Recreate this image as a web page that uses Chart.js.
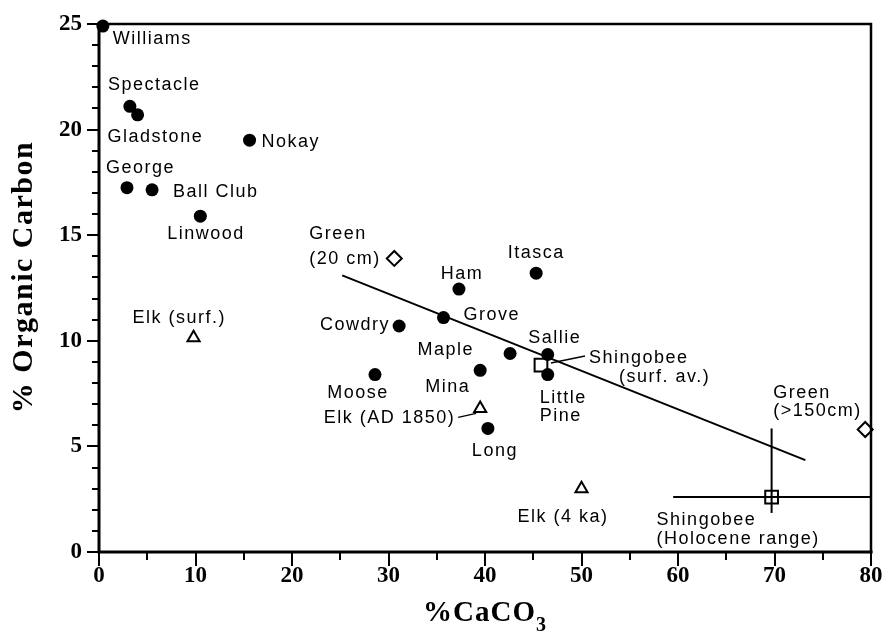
<!DOCTYPE html>
<html>
<head>
<meta charset="utf-8">
<title>Organic carbon vs CaCO3</title>
<script src="https://cdn.jsdelivr.net/npm/chart.js@4.4.1/dist/chart.umd.min.js"></script>
<style>
  html, body { margin: 0; padding: 0; background: #fff; }
  #chart { display: block; }
</style>
</head>
<body>
<canvas id="chart" width="885" height="639"></canvas>
<script>
// lakes (filled circles)
const lakeNames = ['Williams', 'Spectacle', 'Gladstone', 'Nokay', 'George', 'Ball Club', 'Linwood',
  'Itasca', 'Ham', 'Grove', 'Cowdry', 'Maple', 'Sallie', 'Mina', 'Little Pine', 'Moose', 'Long'];
const lakeCaCO3 = [0.4, 3.2, 4.0, 15.6, 2.9, 5.5, 10.5,
  45.3, 37.3, 35.7, 31.1, 42.6, 46.5, 39.5, 46.5, 28.6, 40.3];
const lakeOrgC = [24.9, 21.1, 20.7, 19.5, 17.25, 17.15, 15.9,
  13.2, 12.45, 11.1, 10.7, 9.4, 9.35, 8.6, 8.4, 8.4, 5.85];

// Elk lake samples (open triangles)
const elkNames = ['Elk (surf.)', 'Elk (AD 1850)', 'Elk (4 ka)'];
const elkCaCO3 = [9.8, 39.5, 50.0];
const elkOrgC = [10.15, 6.8, 3.0];

// Green lake samples (open diamonds)
const greenNames = ['Green (20 cm)', 'Green (>150cm)'];
const greenCaCO3 = [30.6, 79.4];
const greenOrgC = [13.9, 5.8];

// Shingobee (open squares)
const shingobeeNames = ['Shingobee (surf. av.)', 'Shingobee (Holocene range)'];
const shingobeeCaCO3 = [45.8, 69.7];
const shingobeeOrgC = [8.85, 2.6];
const holoceneCaCO3Range = [59.5, 80];
const holoceneOrgCRange = [1.85, 5.85];

// regression line end points
const trendCaCO3 = [25.2, 73.2];
const trendOrgC = [13.1, 4.35];

const xTickStep = 10, yTickStep = 5;
const xMax = 80, yMax = 25;

// label placement in pixels relative to each marker: [text, dy]
const labelLayout = {
  'Williams':      { align: 'left', dx: 10, lines: [['Williams', 18]] },
  'Spectacle':     { align: 'left', dx: -22, lines: [['Spectacle', -16]] },
  'Gladstone':     { align: 'left', dx: -30, lines: [['Gladstone', 27]] },
  'Nokay':         { align: 'left', dx: 12, lines: [['Nokay', 7]] },
  'George':        { align: 'left', dx: -21, lines: [['George', -15]] },
  'Ball Club':     { align: 'left', dx: 21, lines: [['Ball Club', 7]] },
  'Linwood':       { align: 'left', dx: -33, lines: [['Linwood', 23]] },
  'Itasca':        { align: 'center', dx: 0, lines: [['Itasca', -15]] },
  'Ham':           { align: 'center', dx: 3, lines: [['Ham', -10]] },
  'Grove':         { align: 'left', dx: 20, lines: [['Grove', 2]] },
  'Cowdry':        { align: 'right', dx: -9, lines: [['Cowdry', 4]] },
  'Maple':         { align: 'right', dx: -36, lines: [['Maple', 2]] },
  'Sallie':        { align: 'center', dx: 7, lines: [['Sallie', -12]] },
  'Mina':          { align: 'right', dx: -10, lines: [['Mina', 22]] },
  'Little Pine':   { align: 'left', dx: -8, lines: [['Little', 28], ['Pine', 46]] },
  'Moose':         { align: 'center', dx: -17, lines: [['Moose', 23]] },
  'Long':          { align: 'center', dx: 7, lines: [['Long', 28]] },
  'Elk (surf.)':   { align: 'left', dx: -61, lines: [['Elk (surf.)', -15]] },
  'Elk (AD 1850)': { align: 'right', dx: -25, lines: [['Elk (AD 1850)', 15]], leader: [-22, 9, -4, 5] },
  'Elk (4 ka)':    { align: 'left', dx: -64, lines: [['Elk (4 ka)', 33]] },
  'Green (20 cm)': { align: 'left', dx: -85, lines: [['Green', -19], ['(20 cm)', 6]] },
  'Green (>150cm)': { align: 'left', dx: -92, lines: [['Green', -32], ['(>150cm)', -14]] },
  'Shingobee (surf. av.)': { align: 'left', dx: 48, lines: [['Shingobee', -2]], extra: [['(surf. av.)', 78, 17]], leader: [10, -2, 44, -9] },
  'Shingobee (Holocene range)': { align: 'left', dx: -115, lines: [['Shingobee', 28], ['(Holocene range)', 47]] }
};

const toPoints = (xs, ys) => xs.map((x, i) => ({ x: x, y: ys[i] }));

const serif = '"Liberation Serif", "Times New Roman", serif';
const sans = '"Liberation Sans", Arial, sans-serif';

// frame, tick marks, titles and point labels
const decorations = {
  id: 'decorations',
  afterDraw(chart) {
    const { ctx, chartArea: a, scales: { x, y } } = chart;
    ctx.save();
    ctx.strokeStyle = '#000';
    ctx.lineCap = 'square';

    // frame
    ctx.lineWidth = 2.5;
    ctx.beginPath();
    ctx.moveTo(a.left, a.top); ctx.lineTo(a.right, a.top); ctx.lineTo(a.right, a.bottom);
    ctx.stroke();
    ctx.lineWidth = 3;
    ctx.beginPath();
    ctx.moveTo(a.left, a.top); ctx.lineTo(a.left, a.bottom); ctx.lineTo(a.right, a.bottom);
    ctx.stroke();

    // tick marks
    ctx.lineWidth = 2;
    ctx.lineCap = 'butt';
    ctx.beginPath();
    for (let v = 0; v <= xMax; v += xTickStep / 2) {
      const px = Math.round(x.getPixelForValue(v));
      const len = v % xTickStep === 0 ? 14 : 8;
      ctx.moveTo(px, a.bottom); ctx.lineTo(px, a.bottom + len);
    }
    for (let v = 0; v <= yMax; v += 1) {
      const py = Math.round(y.getPixelForValue(v));
      const len = v % yTickStep === 0 ? 12 : 7;
      ctx.moveTo(a.left, py); ctx.lineTo(a.left - len, py);
    }
    ctx.stroke();

    // axis titles
    ctx.fillStyle = '#000';
    ctx.font = 'bold 30px ' + serif;
    ctx.letterSpacing = '1.5px';
    ctx.textBaseline = 'alphabetic';
    ctx.save();
    ctx.translate(32, 277);
    ctx.rotate(-Math.PI / 2);
    ctx.textAlign = 'center';
    ctx.fillText('% Organic Carbon', 0, 0);
    ctx.restore();

    ctx.font = 'bold 29px ' + serif;
    ctx.letterSpacing = '1px';
    ctx.textAlign = 'left';
    const main = '%CaCO';
    const mw = ctx.measureText(main).width;
    ctx.font = 'bold 20px ' + serif;
    const sw = ctx.measureText('3').width;
    const tx = (a.left + a.right) / 2 - (mw + sw) / 2;
    ctx.font = 'bold 29px ' + serif;
    ctx.fillText(main, tx, 621);
    ctx.font = 'bold 20px ' + serif;
    ctx.fillText('3', tx + mw, 631);

    // point labels
    ctx.font = '18px ' + sans;
    ctx.letterSpacing = '1.5px';
    ctx.lineWidth = 1.5;
    chart.data.datasets.forEach((ds, di) => {
      if (!ds.names) return;
      const meta = chart.getDatasetMeta(di);
      ds.names.forEach((name, i) => {
        const lay = labelLayout[name];
        if (!lay) return;
        const p = meta.data[i];
        ctx.textAlign = lay.align;
        lay.lines.forEach(([t, dy]) => ctx.fillText(t, p.x + lay.dx, p.y + dy));
        (lay.extra || []).forEach(([t, dx, dy]) => {
          ctx.textAlign = 'left';
          ctx.fillText(t, p.x + dx, p.y + dy);
        });
        if (lay.leader) {
          const [x1, y1, x2, y2] = lay.leader;
          ctx.beginPath();
          ctx.moveTo(p.x + x1, p.y + y1);
          ctx.lineTo(p.x + x2, p.y + y2);
          ctx.stroke();
        }
      });
    });
    ctx.restore();
  }
};

const ctx = document.getElementById('chart').getContext('2d');
new Chart(ctx, {
  type: 'scatter',
  data: {
    datasets: [
      {
        label: 'Lakes',
        names: lakeNames,
        data: toPoints(lakeCaCO3, lakeOrgC),
        pointStyle: 'circle',
        pointRadius: 6.5,
        backgroundColor: '#000',
        borderColor: '#000',
        borderWidth: 0
      },
      {
        label: 'Elk',
        names: elkNames,
        data: toPoints(elkCaCO3, elkOrgC),
        pointStyle: 'triangle',
        pointRadius: 7,
        backgroundColor: '#fff',
        borderColor: '#000',
        borderWidth: 2
      },
      {
        label: 'Green',
        names: greenNames,
        data: toPoints(greenCaCO3, greenOrgC),
        pointStyle: 'rectRot',
        pointRadius: 7.5,
        backgroundColor: '#fff',
        borderColor: '#000',
        borderWidth: 2
      },
      {
        label: 'Shingobee',
        names: shingobeeNames,
        data: toPoints(shingobeeCaCO3, shingobeeOrgC),
        pointStyle: 'rect',
        pointRadius: 9,
        backgroundColor: ['#fff', 'rgba(255,255,255,0)'],
        borderColor: '#000',
        borderWidth: 2
      },
      {
        label: 'Holocene CaCO3 range',
        type: 'line',
        data: toPoints(holoceneCaCO3Range, [shingobeeOrgC[1], shingobeeOrgC[1]]),
        borderColor: '#000',
        borderWidth: 2,
        pointRadius: 0,
        showLine: true
      },
      {
        label: 'Holocene OrgC range',
        type: 'line',
        data: toPoints([shingobeeCaCO3[1], shingobeeCaCO3[1]], holoceneOrgCRange),
        borderColor: '#000',
        borderWidth: 2,
        pointRadius: 0,
        showLine: true
      },
      {
        label: 'Trend',
        type: 'line',
        data: toPoints(trendCaCO3, trendOrgC),
        borderColor: '#000',
        borderWidth: 2,
        pointRadius: 0,
        showLine: true
      }
    ]
  },
  options: {
    responsive: false,
    animation: false,
    clip: false,
    layout: { padding: { top: 24, right: 14, left: 0, bottom: 0 } },
    plugins: {
      legend: { display: false },
      tooltip: { enabled: false }
    },
    scales: {
      x: {
        type: 'linear',
        min: 0,
        max: xMax,
        grid: { display: false, drawTicks: false },
        border: { display: false },
        ticks: {
          stepSize: xTickStep,
          color: '#000',
          padding: 10,
          maxRotation: 0,
          font: { family: serif, size: 23, weight: 'bold' }
        },
        afterFit: s => { s.height = 87; s.paddingLeft = 0; s.paddingRight = 0; }
      },
      y: {
        type: 'linear',
        min: 0,
        max: yMax,
        grid: { display: false, drawTicks: false },
        border: { display: false },
        ticks: {
          stepSize: yTickStep,
          color: '#000',
          padding: 17,
          font: { family: serif, size: 23, weight: 'bold' }
        },
        afterFit: s => { s.width = 99; s.paddingTop = 0; s.paddingBottom = 0; }
      }
    }
  },
  plugins: [decorations]
});
</script>
</body>
</html>
